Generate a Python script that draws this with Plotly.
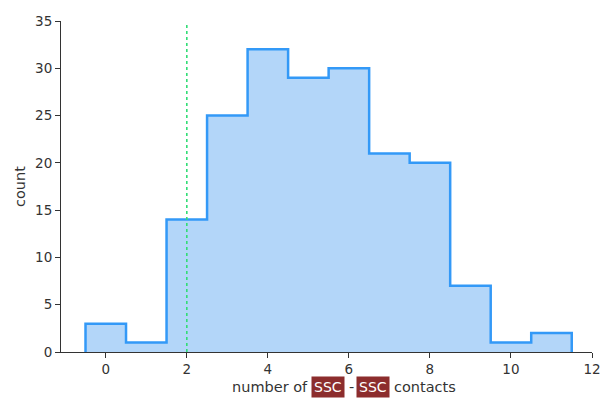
import plotly.graph_objects as go

bin_centers = [0, 1, 2, 3, 4, 5, 6, 7, 8, 9, 10, 11]
counts = [3, 1, 14, 25, 32, 29, 30, 21, 20, 7, 1, 2]
threshold = 2
x_ticks = [0, 2, 4, 6, 8, 10, 12]
y_ticks = [0, 5, 10, 15, 20, 25, 30, 35]

left_edges = [c - 0.5 for c in bin_centers]
xs = [left_edges[0]] + left_edges + [bin_centers[-1] + 0.5, bin_centers[-1] + 0.5]
ys = [0] + counts + [counts[-1], 0]

fig = go.Figure()
fig.add_trace(go.Scatter(
    x=xs, y=ys, mode="lines", line=dict(shape="hv", color="#3399f7", width=2.5),
    fill="tozeroy", fillcolor="#b3d6f9", hoverinfo="skip", showlegend=False))

fig.add_shape(type="line", x0=threshold, x1=threshold, y0=0, y1=34.9, xref="x", yref="y",
              line=dict(color="#33dd77", width=1.6, dash="dot"))

tfont = dict(family="DejaVu Sans", size=13.5, color="#333")
lfont = dict(family="DejaVu Sans", size=14.5, color="#333")
fig.update_layout(
    width=602, height=398, margin=dict(l=61, r=10, t=21, b=46),
    paper_bgcolor="white", plot_bgcolor="white", font=tfont,
    xaxis=dict(range=[-1.105, 12], tickvals=x_ticks, showgrid=False, zeroline=False,
               showline=True, linecolor="#333", linewidth=1, ticks="outside", ticklen=5,
               tickcolor="#333", tickfont=tfont, automargin=False),
    yaxis=dict(range=[0, 35], tickvals=y_ticks, showgrid=False, zeroline=False,
               showline=True, linecolor="#333", linewidth=1, ticks="outside", ticklen=5,
               tickcolor="#333", tickfont=tfont, automargin=False,
               title=dict(text="count", font=lfont, standoff=6)),
)

# x-axis label pieces
box = "#8c2d2d"
parts = [
    ("number of", 270, None),
    ("SSC", 327.5, box),
    ("-", 351, None),
    ("SSC", 372.5, box),
    ("contacts", 424.5, None),
]
for txt, px, bg in parts:
    fig.add_annotation(
        text=txt, x=(px - 61) / 531, y=0, xref="paper", yref="paper",
        yshift=-35, showarrow=False, xanchor="center", yanchor="middle",
        font=dict(family="DejaVu Sans", size=14.5 if not bg else 14,
                  color="white" if bg else "#333"),
        bgcolor=bg if bg else "rgba(0,0,0,0)", borderpad=2)

fig.write_html("out.html")
